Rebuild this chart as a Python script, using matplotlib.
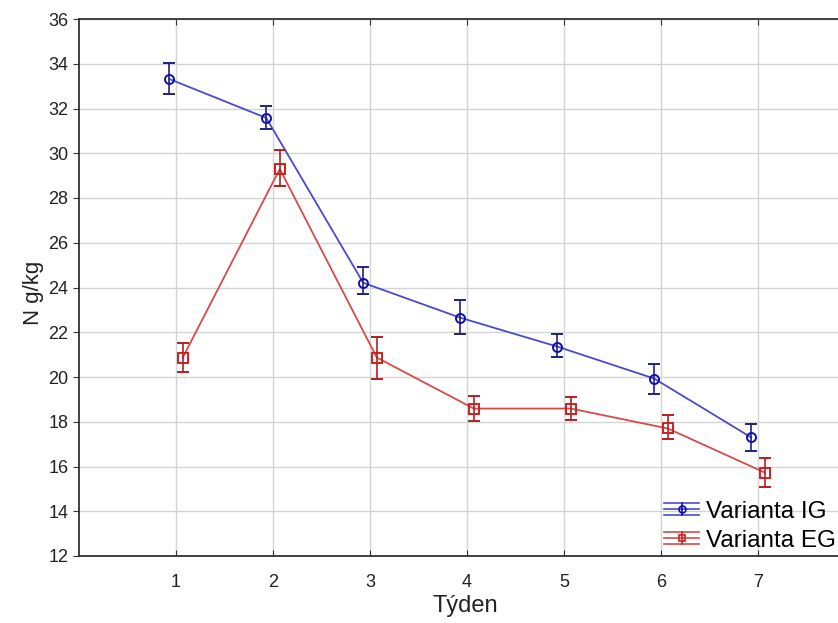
import matplotlib
matplotlib.use("Agg")
import matplotlib.pyplot as plt
from matplotlib.legend_handler import HandlerBase
from matplotlib.lines import Line2D
import numpy as np

weeks = [1, 2, 3, 4, 5, 6, 7]
ig_mean = [33.32, 31.58, 24.21, 22.65, 21.36, 19.93, 17.30]
ig_low = [32.65, 31.09, 23.70, 21.90, 20.90, 19.26, 16.70]
ig_high = [34.03, 32.12, 24.90, 23.45, 21.94, 20.60, 17.90]
eg_mean = [20.87, 29.30, 20.87, 18.59, 18.59, 17.70, 15.73]
eg_low = [20.24, 28.55, 19.93, 18.05, 18.10, 17.25, 15.10]
eg_high = [21.50, 30.15, 21.80, 19.17, 19.10, 18.30, 16.36]
xticks = [1, 2, 3, 4, 5, 6, 7]
yticks = [12, 14, 16, 18, 20, 22, 24, 26, 28, 30, 32, 34, 36]
series_names = ['Varianta IG', 'Varianta EG']

plt.rcParams['font.family'] = ['Liberation Sans', 'DejaVu Sans']

fig = plt.figure(figsize=(8.38, 6.23), dpi=100)
W, H = 838, 623
left, right, top, bottom = 79, 855, 19, 556
ax = fig.add_axes([left / W, 1 - bottom / H, (right - left) / W, (bottom - top) / H])

x = np.array(weeks, dtype=float)
ig_m = np.array(ig_mean); eg_m = np.array(eg_mean)
ig_err = [ig_m - np.array(ig_low), np.array(ig_high) - ig_m]
eg_err = [eg_m - np.array(eg_low), np.array(eg_high) - eg_m]

blue_line = '#4a4ad0'
blue_mk = '#1010b0'
red_line = '#d84a4a'
red_mk = '#cc2020'

ax.plot(x - 0.07, ig_m, color=blue_line, lw=1.3, zorder=3)
ax.errorbar(x - 0.07, ig_m, yerr=ig_err, fmt='o', mfc='none', mec=blue_mk, ms=6.5, mew=1.4,
            ecolor='#202080', elinewidth=1.2, capsize=4.5, capthick=1.2, zorder=4)
ax.plot(x + 0.07, eg_m, color=red_line, lw=1.3, zorder=3)
ax.errorbar(x + 0.07, eg_m, yerr=eg_err, fmt='s', mfc='none', mec=red_mk, ms=6.5, mew=1.4,
            ecolor='#b02020', elinewidth=1.2, capsize=4.5, capthick=1.2, zorder=4)


class Proxy:
    def __init__(self, line, mk, marker):
        self.line, self.mk, self.marker = line, mk, marker


class HandlerStat(HandlerBase):
    def create_artists(self, legend, orig, xdescent, ydescent, width, height, fontsize, trans):
        cy = height / 2 - ydescent
        x0, x1 = -xdescent, -xdescent + width
        cx = (x0 + x1) / 2
        d = 0.24 * fontsize
        arts = []
        arts.append(Line2D([x0, x1], [cy, cy], color=orig.line, lw=1.2))
        arts.append(Line2D([x0, x1], [cy + d, cy + d], color=orig.line, lw=1.2))
        arts.append(Line2D([x0, x1], [cy - d, cy - d], color=orig.line, lw=1.2))
        arts.append(Line2D([cx, cx], [cy - d, cy + d], color=orig.mk, lw=1.2))
        arts.append(Line2D([cx], [cy], marker=orig.marker, mfc='none', mec=orig.mk, ms=5, mew=1.2, ls='none'))
        for a in arts:
            a.set_transform(trans)
        return arts


p1 = Proxy(blue_line, blue_mk, 'o')
p2 = Proxy(red_line, red_mk, 's')
leg = fig.legend([p1, p2], series_names, loc='lower right',
                 bbox_to_anchor=(1.0, 1 - 554 / H), frameon=False, fontsize=17.5,
                 handlelength=1.45, handletextpad=0.25, labelspacing=0.28, borderaxespad=0,
                 borderpad=0.1, handler_map={Proxy: HandlerStat()})

ax.set_xlim(0, 8)
ax.set_ylim(12, 36)
ax.set_xticks(xticks)
ax.set_yticks(yticks)
ax.grid(True, color='#d4d4d4', lw=1.0)
ax.set_axisbelow(True)
ax.spines['right'].set_visible(False)
for s in ['left', 'top', 'bottom']:
    ax.spines[s].set_color('#333333')
    ax.spines[s].set_linewidth(1.3)
ax.tick_params(axis='x', direction='in', length=4, top=True, labelsize=13, pad=13, colors='#333333')
ax.tick_params(axis='y', direction='out', length=4, labelsize=13, colors='#333333')
for lbl in ax.get_xticklabels() + ax.get_yticklabels():
    lbl.set_color('#222222')

fig.text(465 / W, 1 - 606 / H, 'Týden', ha='center', va='center', fontsize=17, color='#222222')
fig.text(33 / W, 1 - 293 / H, 'N g/kg', ha='center', va='center', rotation=90, fontsize=16, color='#222222')

fig.savefig('out.png', dpi=100)
